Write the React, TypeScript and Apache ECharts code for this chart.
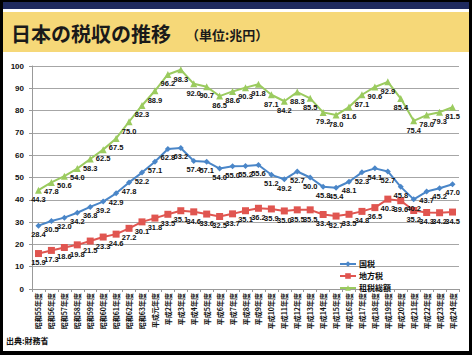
import React, { useEffect, useRef } from "react";
import * as echarts from "echarts";

const categories = [
  "昭和55年度", "昭和56年度", "昭和57年度", "昭和58年度", "昭和59年度", "昭和60年度", "昭和61年度", "昭和62年度", "昭和63年度",
  "平成元年度", "平成2年度", "平成3年度", "平成4年度", "平成5年度", "平成6年度", "平成7年度", "平成8年度", "平成9年度",
  "平成10年度", "平成11年度", "平成12年度", "平成13年度", "平成14年度", "平成15年度", "平成16年度", "平成17年度",
  "平成18年度", "平成19年度", "平成20年度", "平成21年度", "平成22年度", "平成23年度", "平成24年度",
];

const kokuzei = [
  28.4, 30.5, 32.0, 34.2, 36.8, 39.2, 42.9, 47.8, 52.2,
  57.1, 62.8, 63.2, 57.4, 57.1, 54.0, 55.0, 55.2, 55.6,
  51.2, 49.2, 52.7, 50.0, 45.8, 45.4, 48.1, 52.3,
  54.1, 52.7, 45.8, 40.2, 43.7, 45.2, 47.0,
];

const chihouzei = [
  15.9, 17.3, 18.6, 19.8, 21.5, 23.3, 24.6, 27.2, 30.1,
  31.8, 33.5, 35.1, 34.6, 33.6, 32.5, 33.7, 35.1, 36.2,
  35.9, 35.0, 35.5, 35.5, 33.4, 32.7, 33.5, 34.8,
  36.5, 40.3, 39.6, 35.2, 34.3, 34.2, 34.5,
];

const sozeiSougaku = [
  44.3, 47.8, 50.6, 54.0, 58.3, 62.5, 67.5, 75.0, 82.3,
  88.9, 96.2, 98.3, 92.0, 90.7, 86.5, 88.6, 90.3, 91.8,
  87.1, 84.2, 88.3, 85.5, 79.2, 78.0, 81.6, 87.1,
  90.6, 92.9, 85.4, 75.4, 78.0, 79.3, 81.5,
];

const seriesNames = ["国税", "地方税", "租税総額"];

const FONT = "'Liberation Sans', Arial, 'Noto Sans CJK JP', sans-serif";
const CJK = "'Noto Sans CJK JP', sans-serif";

export default function App() {
  const ref = useRef<HTMLDivElement>(null);

  useEffect(() => {
    document.body.style.margin = "0";
    if (!ref.current) return;
    const chart = echarts.init(ref.current, undefined, { renderer: "svg" });

    const label = {
      show: true,
      position: "bottom" as const,
      distance: 2,
      fontSize: 7.5,
      fontWeight: "bold" as const,
      color: "#111",
      fontFamily: FONT,
      formatter: (p: any) => Number(p.value).toFixed(1),
    };

    chart.setOption({
      animation: false,
      backgroundColor: "#000",
      graphic: [
        { type: "rect", shape: { x: 3, y: 2, width: 466, height: 7 }, style: { fill: "#1f2a5e" }, z: 0 },
        { type: "rect", shape: { x: 3, y: 9, width: 466, height: 342 }, style: { fill: "#ffffff" }, z: 0 },
        { type: "rect", shape: { x: 3, y: 12, width: 466, height: 40 }, style: { fill: "#f6d878" }, z: 0 },
        {
          type: "text",
          x: 11,
          y: 33,
          style: { text: "日本の税収の推移", fontSize: 20, fontFamily: CJK, fontWeight: "bold", fill: "#1a1a1a", verticalAlign: "middle" },
          z: 1,
        },
        {
          type: "text",
          x: 186,
          y: 34,
          style: { text: "（単位:兆円）", fontSize: 13, fontFamily: CJK, fontWeight: "bold", fill: "#1a1a1a", verticalAlign: "middle" },
          z: 1,
        },
        {
          type: "text",
          x: 6,
          y: 340,
          style: { text: "出典:財務省", fontSize: 8, fontFamily: CJK, fontWeight: "bold", fill: "#111", verticalAlign: "middle" },
          z: 1,
        },
      ],
      legend: {
        orient: "vertical",
        left: 334,
        top: 255,
        itemWidth: 16,
        itemHeight: 7,
        itemGap: 4,
        textStyle: { fontSize: 8, fontWeight: "bold", fontFamily: CJK, color: "#111", padding: [0, 0, 0, -2] },
        data: seriesNames,
      },
      grid: { left: 32, right: 13, top: 66, bottom: 66, containLabel: false },
      xAxis: {
        type: "category",
        data: categories,
        boundaryGap: true,
        axisLine: { lineStyle: { color: "#999" } },
        axisTick: { show: true, length: 3, lineStyle: { color: "#999" } },
        axisLabel: {
          interval: 0,
          rotate: 90,
          fontSize: 7,
          fontWeight: "bold",
          fontFamily: CJK,
          color: "#111",
          margin: 4,
        },
      },
      yAxis: {
        type: "value",
        min: 0,
        max: 100,
        interval: 10,
        axisLine: { show: true, lineStyle: { color: "#999" } },
        axisTick: { show: true, length: 3, lineStyle: { color: "#999" } },
        splitLine: { lineStyle: { color: "#a6a6a6" } },
        axisLabel: { fontSize: 8, fontWeight: "bold", fontFamily: FONT, color: "#111", margin: 8 },
      },
      series: [
        {
          name: seriesNames[0],
          type: "line",
          data: kokuzei,
          color: "#4a86c8",
          symbol: "diamond",
          symbolSize: 6,
          lineStyle: { width: 2 },
          label,
        },
        {
          name: seriesNames[1],
          type: "line",
          data: chihouzei,
          color: "#e05550",
          symbol: "rect",
          symbolSize: 7,
          lineStyle: { width: 2 },
          label,
        },
        {
          name: seriesNames[2],
          type: "line",
          data: sozeiSougaku,
          color: "#9bcb5f",
          symbol: "triangle",
          symbolSize: 7,
          lineStyle: { width: 2 },
          label,
        },
      ],
    });

    return () => chart.dispose();
  }, []);

  return <div ref={ref} style={{ width: 472, height: 355 }} />;
}
